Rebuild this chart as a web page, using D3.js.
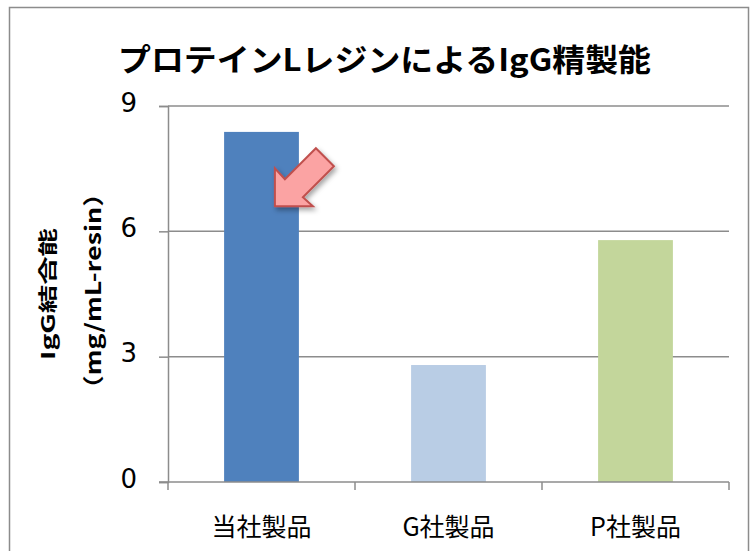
<!DOCTYPE html>
<html><head><meta charset="utf-8">
<script src="https://cdn.jsdelivr.net/npm/d3@7"></script>
<style>body{margin:0;background:#fff}svg{display:block}</style>
</head><body>
<script>
const categories = ["当社製品", "G社製品", "P社製品"];
const values = [8.38, 2.80, 5.79];
const colors = ["#4F81BD", "#B9CDE5", "#C3D69B"];
const yTicks = [0, 3, 6, 9];
const title = "プロテインLレジンによるIgG精製能";
const yTitle1 = "IgG結合能";
const yTitle2 = "（mg/mL-resin）";

const W = 751, H = 551;
const svg = d3.select("body").append("svg").attr("width", W).attr("height", H);
const font = "'Noto Sans CJK JP', 'DejaVu Sans', sans-serif";
const numFont = "'DejaVu Sans', sans-serif";

// frame
svg.append("rect").attr("x", 9.5).attr("y", 7.5).attr("width", 739).attr("height", 600)
  .attr("fill", "#fff").attr("stroke", "#8c8c8c").attr("stroke-width", 1.5);

const m = {left: 168, right: 729, top: 106, bottom: 482};
const x = d3.scaleBand().domain(categories).range([m.left, m.right]).paddingInner(0.6).paddingOuter(0.3);
const y = d3.scaleLinear().domain([0, 9]).range([m.bottom, m.top]);

// gridlines
svg.append("g").selectAll("line").data(yTicks.filter(d => d > 0)).join("line")
  .attr("x1", m.left).attr("x2", m.right).attr("y1", d => y(d)).attr("y2", d => y(d))
  .attr("stroke", "#8c8c8c").attr("stroke-width", 1.5);

// y axis
const yAxis = svg.append("g").attr("transform", `translate(${m.left},0)`)
  .call(d3.axisLeft(y).tickValues(yTicks).tickSize(9).tickPadding(22).tickFormat(d3.format("d")));
yAxis.select(".domain").attr("stroke", "#8c8c8c").attr("stroke-width", 1.5);
yAxis.selectAll(".tick line").attr("stroke", "#8c8c8c").attr("stroke-width", 1.5);
yAxis.selectAll("text").attr("font-family", numFont).attr("font-size", 26).attr("fill", "#000")
  .attr("dy", null).attr("y", -4).attr("dominant-baseline", "central");

// bars
svg.append("g").selectAll("rect").data(values).join("rect")
  .attr("x", (d, i) => x(categories[i]))
  .attr("width", x.bandwidth())
  .attr("y", d => y(d)).attr("height", d => y(0) - y(d))
  .attr("fill", (d, i) => colors[i]);

// x axis
const xPos = d3.scaleLinear().domain([0, categories.length]).range([m.left, m.right]);
const xAxis = svg.append("g").attr("transform", `translate(0,${m.bottom})`);
xAxis.append("line").attr("x1", m.left - 9).attr("x2", m.right).attr("y1", 0).attr("y2", 0)
  .attr("stroke", "#8c8c8c").attr("stroke-width", 1.5);
xAxis.selectAll(".tk").data(d3.range(categories.length + 1)).join("line")
  .attr("x1", d => xPos(d)).attr("x2", d => xPos(d)).attr("y1", 0).attr("y2", 8)
  .attr("stroke", "#8c8c8c").attr("stroke-width", 1.5);
xAxis.selectAll("text").data(categories).join("text")
  .attr("x", d => x(d) + x.bandwidth() / 2).attr("y", 43)
  .attr("text-anchor", "middle").attr("dominant-baseline", "central")
  .attr("font-family", font).attr("font-size", 25).attr("fill", "#000")
  .text(d => d);

// title
svg.append("text").attr("x", 384.5).attr("y", 71).attr("text-anchor", "middle")
  .attr("font-family", font).attr("font-weight", "bold").attr("font-size", 31).attr("fill", "#000")
  .attr("textLength", 533).attr("lengthAdjust", "spacingAndGlyphs")
  .text(title);

// y titles
svg.append("text").attr("transform", "translate(46,294) rotate(-90)").attr("text-anchor", "middle")
  .attr("dominant-baseline", "central")
  .attr("font-family", font).attr("font-weight", "bold").attr("font-size", 19)
  .attr("textLength", 132).attr("lengthAdjust", "spacingAndGlyphs").text(yTitle1);
svg.append("text").attr("transform", "translate(92,291) rotate(-90)").attr("text-anchor", "middle")
  .attr("dominant-baseline", "central")
  .attr("font-family", font).attr("font-weight", "bold").attr("font-size", 21)
  .attr("textLength", 222).attr("lengthAdjust", "spacingAndGlyphs").text(yTitle2);

// annotation arrow pointing at first bar
const defs = svg.append("defs");
const f = defs.append("filter").attr("id", "sh").attr("x", "-30%").attr("y", "-30%").attr("width", "160%").attr("height", "160%");
f.append("feDropShadow").attr("dx", 2).attr("dy", 3).attr("stdDeviation", 2.5).attr("flood-color", "#000").attr("flood-opacity", 0.35);
const tipX = x(categories[0]) + x.bandwidth() - 24, tipY = y(6.6);
const pts = [[0,0],[0,-38],[10,-27],[41,-58],[59,-40],[28,-9],[38,0]];
svg.append("path")
  .attr("d", "M" + pts.map(p => [tipX + p[0], tipY + p[1]].join(",")).join("L") + "Z")
  .attr("fill", "#FBA3A3").attr("stroke", "#C0504D").attr("stroke-width", 2)
  .attr("stroke-linejoin", "miter").attr("filter", "url(#sh)");
</script>
</body></html>
